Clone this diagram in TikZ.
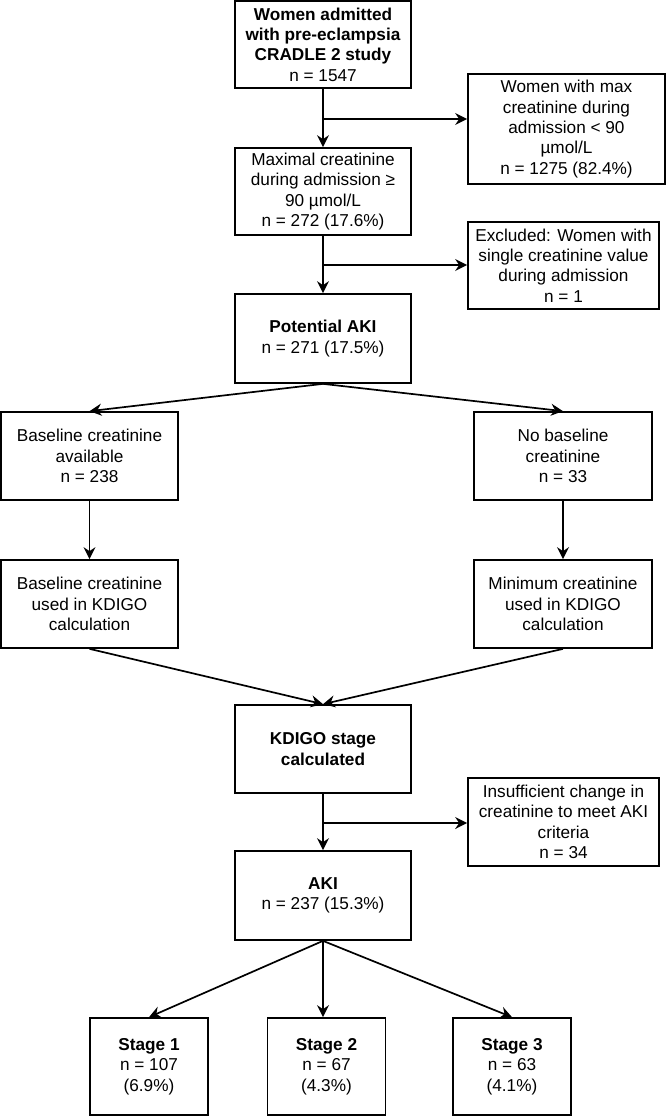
\documentclass[tikz,border=0pt]{standalone}
\usepackage{fontspec}
\setmainfont{Liberation Sans}
\usetikzlibrary{arrows.meta}
\begin{document}
\begin{tikzpicture}[x=1pt,y=-1pt,
  box/.style={draw, line width=1.7pt, align=center, inner sep=2pt,
    font=\fontsize{17.2}{20.4}\selectfont},
  arr/.style={line width=1.7pt, -{Stealth[length=12pt,width=12pt,inset=4pt]}},
  ln/.style={line width=1.7pt}]
\useasboundingbox (0,0) rectangle (666,1117);
\node[box, minimum width=176, minimum height=87] (b1) at (323,44.5)
  {\textbf{Women admitted}\\\textbf{with pre-eclampsia}\\\textbf{CRADLE 2 study}\\n = 1547};
\node[box, minimum width=197, minimum height=110] (r1) at (566.5,129)
  {Women with max\\creatinine during\\admission < 90\\µmol/L\\n = 1275 (82.4\%)};
\node[box, minimum width=176, minimum height=87] (b2) at (323,191.5)
  {Maximal creatinine\\during admission ≥\\90 µmol/L\\n = 272 (17.6\%)};
\node[box, minimum width=191, minimum height=87] (r2) at (563.5,265.5)
  {Excluded: Women with\\single creatinine value\\during admission\\n = 1};
\node[box, minimum width=176, minimum height=89] (b3) at (323,338.5)
  {\textbf{Potential AKI}\\n = 271 (17.5\%)};
\node[box, minimum width=177, minimum height=88] (l1) at (89.5,456)
  {Baseline creatinine\\available\\n = 238};
\node[box, minimum width=178, minimum height=88] (rr1) at (563,456)
  {No baseline\\creatinine\\n = 33};
\node[box, minimum width=177, minimum height=88] (l2) at (89.5,604)
  {Baseline creatinine\\used in KDIGO\\calculation};
\node[box, minimum width=178, minimum height=88] (rr2) at (563,604)
  {Minimum creatinine\\used in KDIGO\\calculation};
\node[box, minimum width=176, minimum height=88] (b4) at (323,749)
  {\textbf{KDIGO stage}\\\textbf{calculated}};
\node[box, minimum width=191, minimum height=88] (r3) at (563.5,822)
  {Insufficient change in\\creatinine to meet AKI\\criteria\\n = 34};
\node[box, minimum width=176, minimum height=89] (b5) at (323,895.5)
  {\textbf{AKI}\\n = 237 (15.3\%)};
\node[box, minimum width=118, minimum height=97] (s1) at (149,1066.5)
  {\textbf{Stage 1}\\n = 107\\(6.9\%)};
\node[box, minimum width=118, minimum height=97] (s2) at (326.5,1066.5)
  {\textbf{Stage 2}\\n = 67\\(4.3\%)};
\node[box, minimum width=118, minimum height=97] (s3) at (512,1066.5)
  {\textbf{Stage 3}\\n = 63\\(4.1\%)};
\coordinate (j1) at (323,119);
\coordinate (j2) at (323,265);
\coordinate (j3) at (323,823);
\draw[arr] (b1.south) -- (b2.north);
\draw[arr] (j1) -- (j1 -| r1.west);
\draw[arr] (b2.south) -- (b3.north);
\draw[arr] (j2) -- (j2 -| r2.west);
\draw[arr] (b3.south) -- (l1.north);
\draw[arr] (b3.south) -- (rr1.north);
\draw[arr] (l1.south) -- (l2.north);
\draw[arr] (rr1.south) -- (rr2.north);
\draw[arr] (l2.south) -- (b4.north);
\draw[arr] (rr2.south) -- (b4.north);
\draw[arr] (b4.south) -- (b5.north);
\draw[arr] (j3) -- (j3 -| r3.west);
\draw[arr] (b5.south) -- (s1.north);
\draw[arr] (b5.south) -- (b5.south |- s2.north);
\draw[arr] (b5.south) -- (s3.north);
\end{tikzpicture}
\end{document}
